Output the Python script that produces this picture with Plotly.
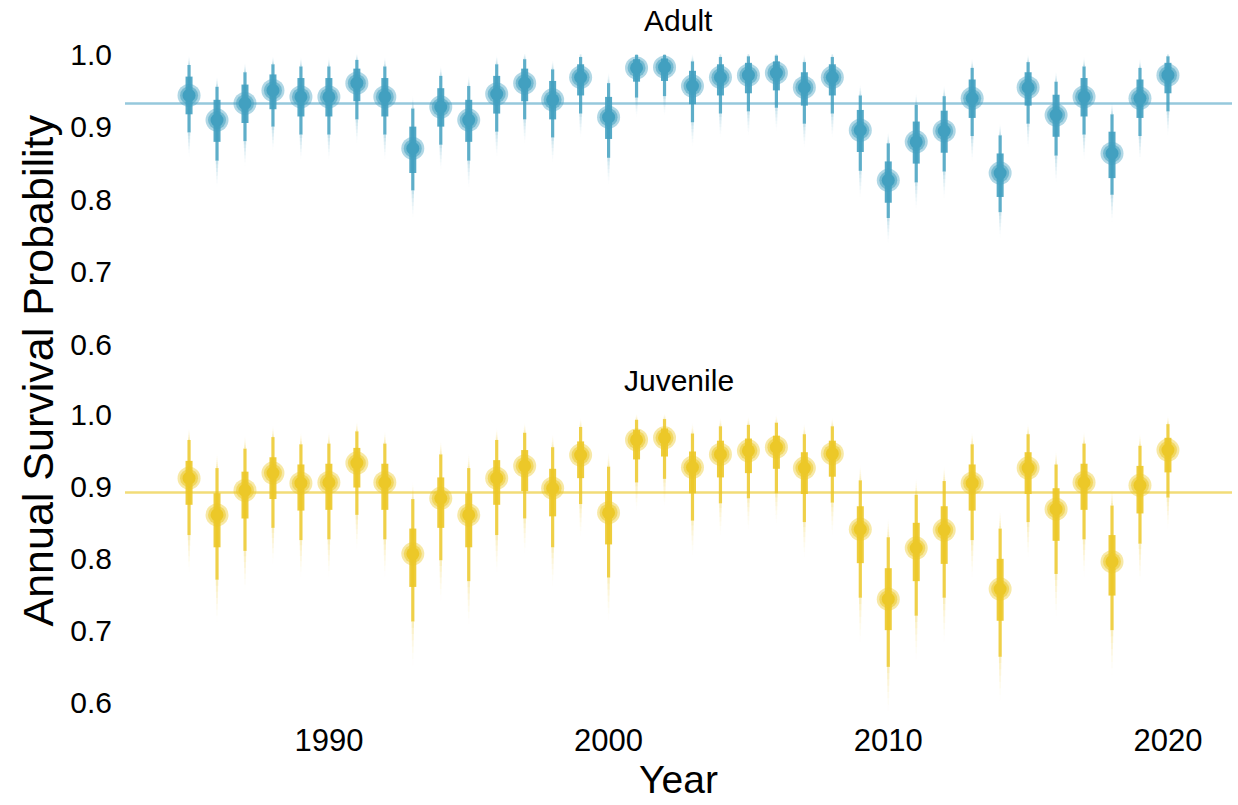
import plotly.graph_objects as go
from plotly.subplots import make_subplots

years = list(range(1985, 2021))

# Adult: median, 95% interval, 66% interval
adult_p    = [.943,.909,.932,.950,.941,.941,.960,.941,.870,.927,.909,.945,.960,.937,.968,.913,.981,.982,
              .956,.968,.971,.974,.954,.968,.895,.826,.879,.894,.939,.836,.954,.916,.941,.863,.939,.971]
adult_hi95 = [.985,.955,.975,.986,.983,.983,.992,.983,.925,.970,.956,.986,.993,.979,.996,.960,.999,.999,
              .990,.996,.997,.998,.989,.996,.943,.877,.930,.942,.981,.888,.989,.962,.983,.917,.981,.997]
adult_lo95 = [.892,.853,.880,.900,.889,.889,.910,.889,.812,.875,.853,.893,.910,.885,.918,.857,.940,.942,
              .906,.918,.921,.926,.904,.918,.839,.774,.823,.838,.887,.782,.904,.860,.889,.806,.887,.921]
adult_hi66 = [.969,.937,.958,.972,.967,.967,.980,.967,.900,.953,.937,.970,.980,.963,.986,.941,.993,.994,
              .977,.986,.988,.990,.975,.986,.923,.852,.907,.922,.965,.863,.975,.944,.967,.893,.965,.988]
adult_lo66 = [.917,.879,.905,.924,.914,.914,.935,.914,.836,.900,.879,.918,.935,.910,.943,.883,.962,.963,
              .931,.943,.946,.950,.929,.943,.865,.795,.849,.864,.912,.803,.929,.886,.914,.829,.912,.946]
adult_mean = 0.932

# Juvenile
juv_p    = [.911,.860,.894,.918,.904,.905,.932,.905,.806,.883,.860,.911,.928,.897,.943,.863,.964,.967,
            .926,.944,.949,.954,.925,.945,.840,.743,.814,.839,.904,.757,.925,.868,.905,.795,.901,.950]
juv_hi95 = [.964,.925,.952,.968,.958,.959,.976,.959,.882,.944,.925,.964,.974,.954,.982,.927,.992,.993,
            .973,.983,.985,.988,.972,.983,.908,.829,.888,.907,.958,.841,.972,.930,.959,.873,.956,.986]
juv_lo95 = [.832,.770,.810,.842,.825,.826,.860,.826,.712,.797,.768,.832,.855,.815,.875,.773,.905,.910,
            .852,.876,.883,.890,.850,.877,.745,.649,.720,.745,.825,.663,.850,.778,.826,.700,.820,.884]
juv_hi66 = [.935,.890,.920,.940,.930,.931,.953,.931,.841,.912,.890,.936,.950,.924,.962,.893,.978,.980,
            .948,.963,.966,.970,.947,.963,.872,.786,.849,.872,.930,.799,.947,.897,.931,.832,.928,.967]
juv_lo66 = [.874,.815,.855,.882,.866,.867,.898,.867,.760,.842,.815,.874,.893,.858,.911,.819,.937,.941,
            .890,.912,.918,.924,.889,.913,.793,.700,.768,.792,.866,.713,.889,.824,.867,.748,.862,.919]
juv_mean = 0.891

y_ticks = [0.6, 0.7, 0.8, 0.9, 1.0]
x_ticks = [1990, 2000, 2010, 2020]

XR = [1982.71, 2022.29]
YR = [0.585, 1.025]

fig = make_subplots(rows=2, cols=1, shared_xaxes=True, vertical_spacing=0.06)


def segs(x, lo, hi):
    xs, ys = [], []
    for a, b, c in zip(x, lo, hi):
        xs += [a, a, None]
        ys += [b, c, None]
    return xs, ys


def add_stage(row, p, lo95, hi95, lo66, hi66, mean, rgb, mean_rgb):
    r, g, b = rgb
    col = lambda a: f"rgba({r},{g},{b},{a})"
    # mean line
    fig.add_trace(go.Scatter(x=XR, y=[mean, mean], mode="lines",
                             line=dict(color=mean_rgb, width=2.5),
                             hoverinfo="skip", showlegend=False), row=row, col=1)
    # faded gradient tails beyond the 95% interval
    steps = 7
    for k in range(steps):
        f0, f1 = k / steps, (k + 1) / steps
        lo_a = [l - (pp - l) * 0.65 * f0 for pp, l in zip(p, lo95)]
        lo_b = [l - (pp - l) * 0.65 * f1 for pp, l in zip(p, lo95)]
        hi_a = [min(h + (h - pp) * 0.3 * f0, 1.0) for pp, h in zip(p, hi95)]
        hi_b = [min(h + (h - pp) * 0.3 * f1, 1.0) for pp, h in zip(p, hi95)]
        alpha = 0.3 * (1 - f0) ** 1.6
        w = 2.4 - 1.3 * f0
        xs, ys = segs(years, lo_b, lo_a)
        fig.add_trace(go.Scatter(x=xs, y=ys, mode="lines", line=dict(color=col(alpha), width=w),
                                 hoverinfo="skip", showlegend=False), row=row, col=1)
        xs, ys = segs(years, hi_a, hi_b)
        fig.add_trace(go.Scatter(x=xs, y=ys, mode="lines", line=dict(color=col(alpha), width=w * 0.8),
                                 hoverinfo="skip", showlegend=False), row=row, col=1)
    # 95% interval
    xs, ys = segs(years, lo95, hi95)
    fig.add_trace(go.Scatter(x=xs, y=ys, mode="lines", line=dict(color=col(0.85), width=3.2),
                             hoverinfo="skip", showlegend=False), row=row, col=1)
    # 66% interval
    xs, ys = segs(years, lo66, hi66)
    fig.add_trace(go.Scatter(x=xs, y=ys, mode="lines", line=dict(color=col(0.9), width=7),
                             hoverinfo="skip", showlegend=False), row=row, col=1)
    # point with halo
    fig.add_trace(go.Scatter(x=years, y=p, mode="markers",
                             marker=dict(size=23, color=col(0.42), line=dict(width=0)),
                             hoverinfo="skip", showlegend=False), row=row, col=1)
    fig.add_trace(go.Scatter(x=years, y=p, mode="markers",
                             marker=dict(size=18, color=col(0.55), line=dict(width=0)),
                             hoverinfo="skip", showlegend=False), row=row, col=1)
    fig.add_trace(go.Scatter(x=years, y=p, mode="markers",
                             marker=dict(size=13, color=col(1.0), line=dict(width=0)),
                             showlegend=False), row=row, col=1)


add_stage(1, adult_p, adult_lo95, adult_hi95, adult_lo66, adult_hi66, adult_mean,
          (66, 160, 192), "rgb(150,200,220)")
add_stage(2, juv_p, juv_lo95, juv_hi95, juv_lo66, juv_hi66, juv_mean,
          (236, 200, 40), "rgb(242,220,120)")

FONT = "Liberation Sans, Arial, Helvetica, sans-serif"

fig.update_layout(
    width=1238, height=805,
    margin=dict(l=125, r=6, t=36, b=92),
    paper_bgcolor="white", plot_bgcolor="white",
    font=dict(family=FONT, color="black"),
    showlegend=False,
)
fig.update_layout(
    yaxis=dict(domain=[0.5288, 1.0]),
    yaxis2=dict(domain=[0.0, 0.4682]),
)
for ax in ["yaxis", "yaxis2"]:
    fig.layout[ax].update(range=YR, tickvals=y_ticks, ticktext=[f"{v:.1f}" for v in y_ticks],
                          showgrid=False, zeroline=False, showline=False, ticks="",
                          tickfont=dict(size=30, family=FONT, color="black"),
                          ticklabelstandoff=12)
fig.update_xaxes(range=XR, tickvals=x_ticks, showgrid=False, zeroline=False, showline=False,
                 ticks="", tickfont=dict(size=31, family=FONT, color="black"))
fig.update_xaxes(showticklabels=False, row=1, col=1)
fig.update_xaxes(title=dict(text="Year", font=dict(size=39, family=FONT, color="black"), standoff=2),
                 ticklabelstandoff=6, row=2, col=1)

fig.layout.annotations = []
fig.add_annotation(text="Adult", x=0.5, y=1.0, xref="paper", yref="paper", xanchor="center",
                   yanchor="bottom", yshift=-3, showarrow=False,
                   font=dict(size=30, family=FONT, color="black"))
fig.add_annotation(text="Juvenile", x=0.5, y=0.4682, xref="paper", yref="paper", xanchor="center",
                   yanchor="bottom", yshift=-3, showarrow=False,
                   font=dict(size=30, family=FONT, color="black"))
fig.add_annotation(text="Annual Survival Probability", x=0, y=0.5, xref="paper", yref="paper",
                   xanchor="center", yanchor="middle", xshift=-88, yshift=4, textangle=-90,
                   showarrow=False, font=dict(size=43, family=FONT, color="black"))

fig.write_html("out.html")
